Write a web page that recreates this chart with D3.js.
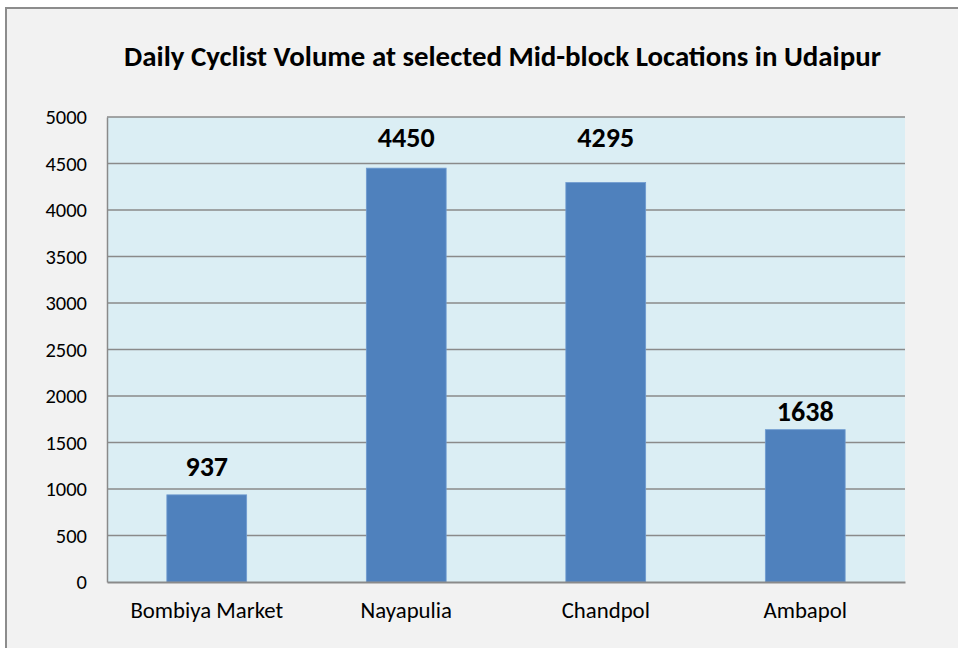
<!DOCTYPE html>
<html>
<head>
<meta charset="utf-8">
<script src="https://cdn.jsdelivr.net/npm/d3@7"></script>
<style>
  body { margin: 0; background: #fff; }
  svg { display: block; }
</style>
</head>
<body>
<svg id="chart" width="958" height="648"></svg>
<script>
const locations = ["Bombiya Market", "Nayapulia", "Chandpol", "Ambapol"]
const volumes = [937, 4450, 4295, 1638]
const yTicks = [0, 500, 1000, 1500, 2000, 2500, 3000, 3500, 4000, 4500, 5000]
const title = "Daily Cyclist Volume at selected Mid-block Locations in Udaipur"

const width = 958, height = 648
const plot = { left: 107, right: 905, top: 117, bottom: 582 }
const font = "Carlito, Calibri, 'Noto Sans', sans-serif"
// labels in the original sit at hand-placed heights above the bars
const labelLift = [19, 21.5, 36, 9]

const svg = d3.select("#chart")

// chart area
svg.append("rect")
  .attr("x", 6).attr("y", 8).attr("width", width).attr("height", height)
  .attr("fill", "#f2f2f2").attr("stroke", "#8c8c8c").attr("stroke-width", 2)

const x = d3.scaleBand().domain(locations)
  .range([plot.left, plot.right]).paddingInner(0.6).paddingOuter(0.3)
const y = d3.scaleLinear().domain([0, 5000]).range([plot.bottom, plot.top])

svg.append("rect")
  .attr("x", plot.left).attr("y", plot.top)
  .attr("width", plot.right - plot.left).attr("height", plot.bottom - plot.top)
  .attr("fill", "#dbeef4")

// gridlines
svg.append("g").selectAll("line").data(yTicks.filter(d => d > 0)).join("line")
  .attr("x1", plot.left).attr("x2", plot.right)
  .attr("y1", d => y(d)).attr("y2", d => y(d))
  .attr("stroke", "#8a8a8a").attr("stroke-width", 1.3)

// y axis
const yAxis = svg.append("g").attr("transform", `translate(${plot.left},0)`)
  .call(d3.axisLeft(y).tickValues(yTicks).tickFormat(d3.format("d")).tickSize(0).tickPadding(20))
yAxis.select(".domain").attr("stroke", "#8a8a8a").attr("stroke-width", 1.5)
yAxis.selectAll("text").attr("font-family", font).attr("font-size", 20.5).attr("fill", "#000")

// bars
svg.append("g").selectAll("rect").data(volumes).join("rect")
  .attr("x", (d, i) => x(locations[i]))
  .attr("y", d => y(d))
  .attr("width", x.bandwidth())
  .attr("height", d => y(0) - y(d))
  .attr("fill", "#4f81bd")
  .attr("stroke", "#6f9bd0").attr("stroke-width", 0.8)

// x axis
const xAxis = svg.append("g").attr("transform", `translate(0,${plot.bottom})`)
  .call(d3.axisBottom(x).tickSize(0).tickPadding(20))
xAxis.select(".domain").attr("stroke", "#8a8a8a").attr("stroke-width", 2)
xAxis.selectAll("text").attr("font-family", font).attr("font-size", 22.8).attr("fill", "#000")

// value labels
svg.append("g").selectAll("text").data(volumes).join("text")
  .attr("x", (d, i) => x(locations[i]) + x.bandwidth() / 2)
  .attr("y", (d, i) => y(d) - labelLift[i])
  .attr("text-anchor", "middle")
  .attr("font-family", font).attr("font-size", 28).attr("font-weight", "bold")
  .text(d => d)

// title, sized to span the same width as the original
const t = svg.append("text")
  .attr("x", 502.5).attr("y", 66)
  .attr("text-anchor", "middle")
  .attr("font-family", font).attr("font-size", 26).attr("font-weight", "bold")
  .text(title)
const tw = t.node().getComputedTextLength()
t.attr("font-size", 26 * 757 / tw)
</script>
</body>
</html>
